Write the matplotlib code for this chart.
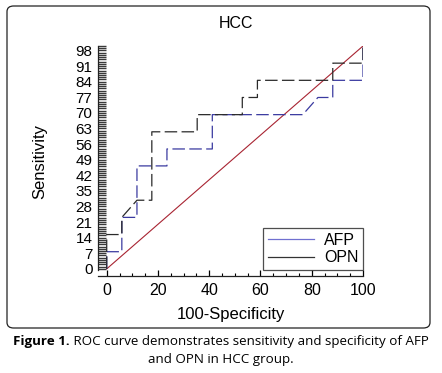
import matplotlib
matplotlib.use('Agg')
import matplotlib.pyplot as plt
from matplotlib.patches import FancyBboxPatch
from matplotlib.lines import Line2D
import numpy as np

# ROC data (100-specificity, sensitivity)
afp_x = [0, 0, 5.9, 5.9, 11.8, 11.8, 23.5, 23.5, 41.2, 41.2, 76.5, 82.4, 88.2, 88.2, 100, 100]
afp_y = [0, 7.7, 7.7, 23.1, 23.1, 46.2, 46.2, 53.8, 53.8, 69.2, 69.2, 76.9, 76.9, 84.6, 84.6, 100]
opn_x = [0, 0, 5.9, 5.9, 11.8, 17.6, 17.6, 35.3, 35.3, 52.9, 52.9, 58.8, 58.8, 88.2, 88.2, 100, 100]
opn_y = [0, 15.4, 15.4, 23.1, 30.8, 30.8, 61.5, 61.5, 69.2, 69.2, 76.9, 76.9, 84.6, 84.6, 92.3, 92.3, 100]
ref_x = [0, 100]
ref_y = [0, 100]

xticks = [0, 20, 40, 60, 80, 100]
yticks = [0, 7, 14, 21, 28, 35, 42, 49, 56, 63, 70, 77, 84, 91, 98]

plt.rcParams['font.family'] = ['Liberation Sans', 'DejaVu Sans']

W, H = 442, 373
fig = plt.figure(figsize=(W / 100, H / 100), dpi=100)

# rounded frame around the chart
frame = FancyBboxPatch((7 / W, 1 - 328 / H), (430 - 7) / W, (328 - 6) / H,
                       boxstyle='round,pad=0,rounding_size=0.015',
                       transform=fig.transFigure, fill=False, ec='#222222', lw=0.9)
fig.patches.append(frame)

ax = fig.add_axes([98 / W, 1 - 276 / H, (363 - 98) / W, (276 - 46) / H])
ax.plot(ref_x, ref_y, color='#a82432', lw=0.8)
ax.plot(afp_x, afp_y, color='#3a3aa0', lw=0.9, dashes=(10, 3.5))
ax.plot(opn_x, opn_y, color='#2a2a2a', lw=0.9, dashes=(10, 3.5))

ax.set_xlim(-3.4, 100)
ax.set_ylim(-3.2, 100)
ax.spines['top'].set_visible(False)
ax.spines['right'].set_visible(False)
ax.spines['left'].set_bounds(-0.5, 100)
for s in ('left', 'bottom'):
    ax.spines[s].set_linewidth(0.9)
    ax.spines[s].set_color('#222222')

ax.set_xticks(xticks)
ax.set_xticks(np.arange(0, 101, 5), minor=True)
ax.set_yticks(yticks)
ax.set_yticks(np.arange(0, 101, 1), minor=True)
ax.tick_params(axis='x', which='major', direction='in', length=4, width=0.9, labelsize=11.5, pad=5)
ax.tick_params(axis='x', which='minor', direction='in', length=2.5, width=0.8)
ax.tick_params(axis='y', which='both', direction='in', length=6, width=1.0, color='#3a3a3a', labelsize=11, pad=4)

ax.set_xlabel('100-Specificity', fontsize=12, va='center')
ax.xaxis.set_label_coords(0.5, (276 - 314) / 230)
ax.set_ylabel('Sensitivity', fontsize=12, va='center')
ax.yaxis.set_label_coords((40 - 98) / 265, 0.5)
fig.text(236 / W, 1 - 23 / H, 'HCC', fontsize=11.5, ha='center', va='center')

handles = [Line2D([], [], color='#7070d0', lw=0.9), Line2D([], [], color='#333333', lw=0.9)]
leg = ax.legend(handles, ['AFP', 'OPN'], loc='lower right', bbox_to_anchor=(1.0, 0.025),
                fontsize=11.5, frameon=True, fancybox=False, edgecolor='#222222',
                handlelength=2.9, borderpad=0.3, labelspacing=0.15, handletextpad=0.6,
                borderaxespad=0)
leg.get_frame().set_linewidth(0.9)

# caption under the frame
cap_font = ['Open Sans', 'DejaVu Sans']
fig.canvas.draw()
r = fig.canvas.get_renderer()
t1 = fig.text(0, 1 - 341 / H, 'Figure 1.', family=cap_font, fontweight='bold', fontsize=9.6, va='center')
t2 = fig.text(0, 1 - 341 / H, ' ROC curve demonstrates sensitivity and specificity of AFP',
              family=cap_font, fontsize=9.6, va='center')
w1 = t1.get_window_extent(r).width
w2 = t2.get_window_extent(r).width
x0 = (W / 2 - (w1 + w2) / 2) / W
t1.set_x(x0)
t2.set_x(x0 + w1 / W)
fig.text(0.5, 1 - 360 / H, 'and OPN in HCC group.', family=cap_font, fontsize=9.6,
         ha='center', va='center')

fig.savefig('out.png', dpi=100)
